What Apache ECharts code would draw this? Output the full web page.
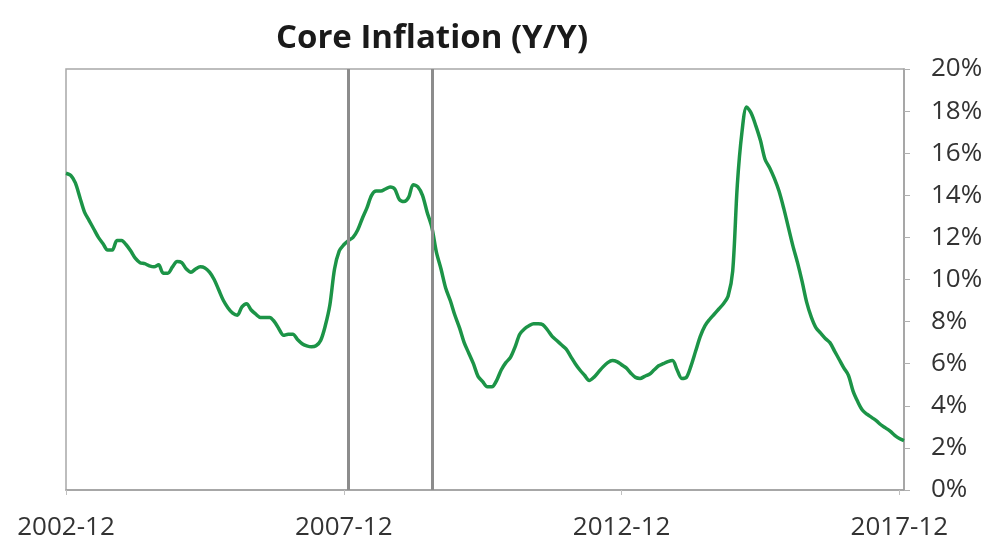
<!DOCTYPE html>
<html>
<head>
<meta charset="utf-8">
<script src="https://cdn.jsdelivr.net/npm/echarts@6/dist/echarts.min.js"></script>
<style>
html,body{margin:0;padding:0;background:#fff;}
#chart{width:995px;height:542px;}
</style>
</head>
<body>
<div id="chart"></div>
<script>
// Monthly categories 2002-12 .. 2018-01
const startYear = 2002, startMonth = 12, monthCount = 182;
const categories = [];
for (let i = 0; i < monthCount; i++) {
  const t = (startYear * 12 + (startMonth - 1)) + i;
  const y = Math.floor(t / 12), m = t % 12 + 1;
  categories.push(y + '-' + (m < 10 ? '0' + m : m));
}

// Core inflation Y/Y (%)
const coreInflation = [
  15.05,14.95,14.6,13.9,13.2,12.8,12.4,12.0,11.7,11.4,
  11.4,11.85,11.85,11.65,11.35,11.0,10.8,10.75,10.65,10.6,
  10.7,10.3,10.3,10.6,10.85,10.8,10.5,10.35,10.5,10.6,
  10.55,10.35,10.0,9.5,9.0,8.65,8.4,8.3,8.7,8.85,
  8.55,8.35,8.2,8.2,8.2,8.0,7.65,7.35,7.4,7.4,
  7.15,6.95,6.85,6.8,6.85,7.1,7.8,8.8,10.5,11.35,
  11.65,11.85,12.0,12.35,12.9,13.4,14.0,14.2,14.2,14.3,
  14.4,14.3,13.8,13.7,13.9,14.5,14.4,14.0,13.2,12.5,
  11.3,10.5,9.6,9.0,8.3,7.7,7.0,6.5,6.0,5.4,
  5.15,4.9,4.9,5.2,5.7,6.05,6.3,6.8,7.4,7.65,
  7.8,7.9,7.9,7.85,7.6,7.3,7.1,6.9,6.7,6.35,
  6.0,5.7,5.45,5.2,5.35,5.6,5.85,6.05,6.15,6.1,
  5.95,5.8,5.55,5.35,5.3,5.4,5.5,5.7,5.9,6.0,
  6.1,6.15,5.7,5.3,5.35,5.9,6.6,7.3,7.8,8.1,
  8.35,8.6,8.85,9.2,10.4,14.5,17.0,18.2,17.9,17.3,
  16.6,15.7,15.3,14.8,14.2,13.4,12.5,11.6,10.8,9.9,
  8.9,8.2,7.7,7.45,7.2,7.0,6.6,6.2,5.8,5.45,
  4.7,4.2,3.8,3.6,3.45,3.3,3.1,2.95,2.8,2.6,
  2.45,2.35
];

// Vertical reference lines (recession start / end)
const recessionLines = ['2008-01', '2009-07'];

const yTicks = { min: 0, max: 20, interval: 2 };
const titleText = 'Core Inflation (Y/Y)';

const chart = echarts.init(document.getElementById('chart'), null, { renderer: 'canvas' });
chart.setOption({
  backgroundColor: '#ffffff',
  animation: false,
  title: {
    text: titleText,
    left: 427, top: 17, textAlign: 'center',
    textStyle: { fontFamily: 'Open Sans', fontWeight: 'bold', fontSize: 33, color: '#1a1a1a' }
  },
  grid: {
    left: 66, right: 91, top: 69, bottom: 52,
    show: true, borderColor: '#a8a8a8', borderWidth: 1.5, backgroundColor: 'transparent'
  },
  xAxis: {
    type: 'category',
    data: categories,
    boundaryGap: false,
    axisLine: { show: true, lineStyle: { color: '#a0a0a0', width: 1.5 } },
    axisTick: { show: true, interval: 59, length: 5, lineStyle: { color: '#c0c0c0' } },
    axisLabel: {
      interval: 59, margin: 25,
      fontFamily: 'Open Sans', fontSize: 26, color: '#333'
    },
    splitLine: { show: false }
  },
  yAxis: {
    type: 'value',
    position: 'right',
    min: yTicks.min, max: yTicks.max, interval: yTicks.interval,
    axisLine: { show: true, lineStyle: { color: '#a0a0a0', width: 1.5 } },
    axisTick: { show: true, length: 6, lineStyle: { color: '#b0b0b0' } },
    axisLabel: {
      formatter: '{value}%', margin: 27,
      fontFamily: 'Open Sans', fontSize: 26, color: '#333'
    },
    splitLine: { show: false }
  },
  series: [{
    type: 'line',
    data: coreInflation,
    showSymbol: false,
    smooth: 0.3,
    lineStyle: { color: '#1c9447', width: 3.5 },
    markLine: {
      silent: true,
      symbol: ['none', 'none'],
      label: { show: false },
      lineStyle: { color: '#8c8c8c', width: 3, type: 'solid' },
      data: recessionLines.map(d => ({ xAxis: d }))
    },
    z: 3
  }]
});
</script>
</body>
</html>
